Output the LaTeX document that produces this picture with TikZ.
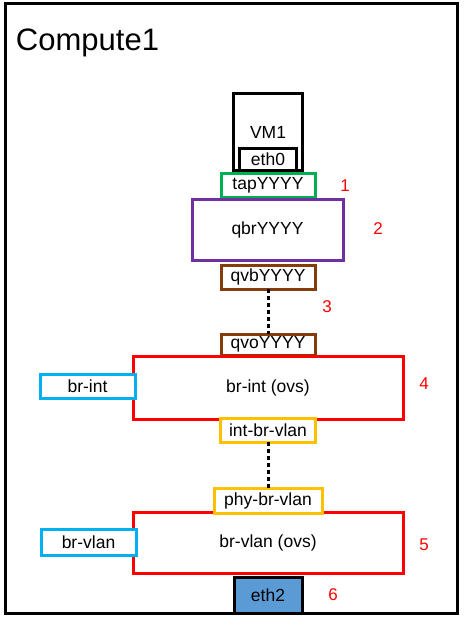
\documentclass[tikz,border=0pt]{standalone}
\usepackage{fontspec}
\setmainfont{Liberation Sans}
\definecolor{cgreen}{HTML}{00B050}
\definecolor{cpurple}{HTML}{7030A0}
\definecolor{cbrown}{HTML}{843C0C}
\definecolor{cyellow}{HTML}{FFC000}
\definecolor{cblue}{HTML}{00B0F0}
\definecolor{cfill}{HTML}{5B9BD5}
\begin{document}
\begin{tikzpicture}[x=1pt,y=-1pt,
  every node/.style={inner sep=0pt,outer sep=0pt,font=\fontsize{17.5}{19}\selectfont},
  box/.style={draw=#1,line width=3pt,fill=white,rectangle,text=black},
  num/.style={text=red,font=\fontsize{17}{19}\selectfont},
  link/.style={line width=3pt,dash pattern=on 4pt off 3pt}]
\useasboundingbox (0,0) rectangle (464,623);
\node[draw,line width=3pt,minimum width=452pt,minimum height=609pt] (frame) at (231,308.5) {};
\node[anchor=base west,font=\fontsize{31}{34}\selectfont] (title) at (16,51) {Compute1};
\node[box=black,minimum width=69pt,minimum height=76pt] (vm) at (268,132) {VM1};
\node[box=black,minimum width=57pt,minimum height=22pt] (eth0) at (268,159) {eth0};
\node[box=cgreen,minimum width=94pt,minimum height=24pt] (tap) at (268,185) {tapYYYY};
\node[box=cpurple,minimum width=151pt,minimum height=61pt] (qbr) at (267.5,229.5) {qbrYYYY};
\node[box=cbrown,minimum width=94pt,minimum height=24pt] (qvb) at (268,277) {qvbYYYY};
\node[box=cbrown,minimum width=94pt,minimum height=21pt] (qvo) at (268,344.5) {qvoYYYY};
\node[box=red,minimum width=270pt,minimum height=63pt] (brint) at (268,387.5) {br-int (ovs)};
\node[box=cblue,minimum width=95pt,minimum height=24pt] (brintp) at (87.5,386) {br-int};
\node[box=cyellow,minimum width=95pt,minimum height=24pt] (intbr) at (268,430) {int-br-vlan};
\node[box=red,minimum width=270pt,minimum height=61pt] (brvlan) at (268,542.5) {br-vlan (ovs)};
\node[box=cyellow,minimum width=108pt,minimum height=25pt] (phybr) at (268,501) {phy-br-vlan};
\node[box=cblue,minimum width=95pt,minimum height=26pt] (brvlanp) at (88.5,542) {br-vlan};
\node[box=black,fill=cfill,minimum width=68pt,minimum height=36pt] (eth2) at (268,595) {eth2};
\node[num] (n1) at (345,186) {1};
\node[num] (n2) at (378,229) {2};
\node[num] (n3) at (327,307) {3};
\node[num] (n4) at (424,384) {4};
\node[num] (n5) at (424,545) {5};
\node[num] (n6) at (333,595) {6};
\draw[link] (qvb.south) -- (qvo.north);
\draw[link] (intbr.south) -- (phybr.north);
\end{tikzpicture}
\end{document}
